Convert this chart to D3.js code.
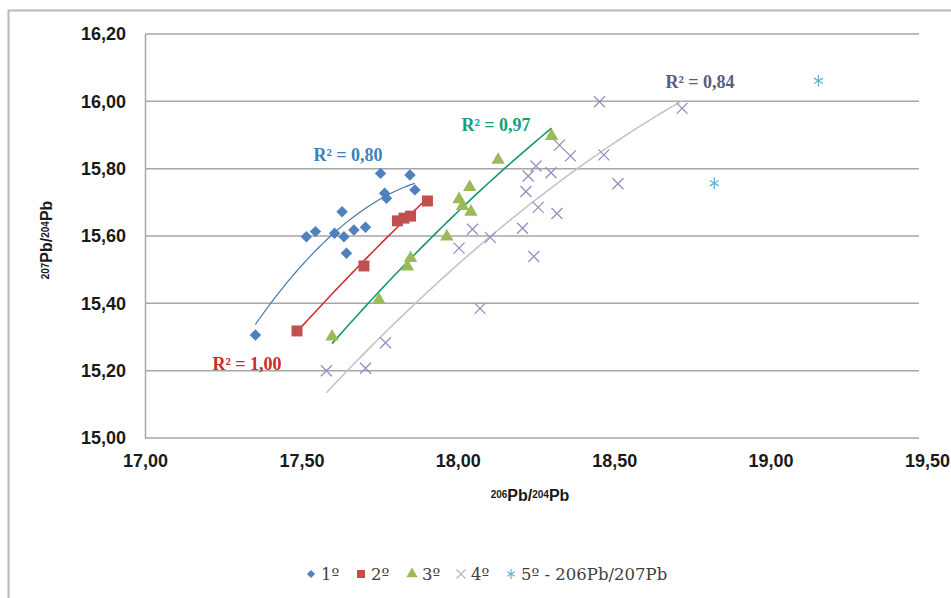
<!DOCTYPE html>
<html>
<head>
<meta charset="utf-8">
<script src="https://cdn.jsdelivr.net/npm/d3@7"></script>
<style>
  html, body { margin: 0; padding: 0; background: #fff; }
  svg { display: block; }
</style>
</head>
<body>
<div id="chart"></div>
<script>
// 数据
const xTicks = [17.0, 17.5, 18.0, 18.5, 19.0, 19.5];
const yTicks = [15.0, 15.2, 15.4, 15.6, 15.8, 16.0, 16.2];

const s1X = [17.353, 17.516, 17.545, 17.630, 17.606, 17.636, 17.644, 17.668, 17.705, 17.753, 17.766, 17.772, 17.847, 17.863];
const s1Y = [15.306, 15.598, 15.613, 15.672, 15.608, 15.598, 15.549, 15.618, 15.626, 15.786, 15.727, 15.712, 15.781, 15.737];

const s2X = [17.486, 17.700, 17.807, 17.828, 17.849, 17.903];
const s2Y = [15.318, 15.511, 15.645, 15.653, 15.659, 15.704];

const s3X = [17.598, 17.748, 17.839, 17.849, 17.965, 18.004, 18.015, 18.038, 18.042, 18.129, 18.300];
const s3Y = [15.301, 15.410, 15.509, 15.534, 15.598, 15.709, 15.689, 15.745, 15.672, 15.826, 15.897];

const s4X = [17.580, 17.705, 17.769, 18.004, 18.047, 18.071, 18.104, 18.207, 18.218, 18.225, 18.243, 18.250, 18.257, 18.298, 18.317, 18.325, 18.360, 18.453, 18.467, 18.512, 18.717];
const s4Y = [15.200, 15.207, 15.283, 15.564, 15.620, 15.385, 15.596, 15.623, 15.732, 15.778, 15.539, 15.808, 15.685, 15.788, 15.667, 15.870, 15.838, 15.999, 15.841, 15.755, 15.979];

const s5X = [19.153, 18.820];
const s5Y = [16.061, 15.757];

const seriesNames = ['1º', '2º', '3º', '4º', '5º - 206Pb/207Pb'];
const r2Labels = ['R² = 0,80', 'R² = 1,00', 'R² = 0,97', 'R² = 0,84'];

const W = 951, H = 598;
const margin = { left: 145, right: 24, top: 34, bottom: 160 };

const fmt = d3.formatLocale({ decimal: ',', thousands: '.', grouping: [3], currency: ['', ''] }).format('.2f');

const svg = d3.select('#chart').append('svg')
    .attr('width', W)
    .attr('height', H);

// 外框
svg.append('rect')
    .attr('x', 8.5).attr('y', 10.5)
    .attr('width', W + 20).attr('height', H + 20)
    .attr('fill', '#fff')
    .attr('stroke', '#b8b8b8')
    .attr('stroke-width', 2);

const x = d3.scaleLinear().domain([17.0, 19.5]).range([margin.left, W - margin.right]);
const y = d3.scaleLinear().domain([15.0, 16.2]).range([438, margin.top]);

// 网格线（原图略短于最后一个刻度）
svg.append('g')
    .selectAll('line')
    .data(yTicks)
    .join('line')
    .attr('x1', x(17.0)).attr('x2', x(19.5) - 8)
    .attr('y1', d => y(d)).attr('y2', d => y(d))
    .attr('stroke', '#a6a6a6')
    .attr('stroke-width', 1.5);

// Y 轴
const yAxis = svg.append('g')
    .attr('transform', `translate(${x(17.0)},0)`)
    .call(d3.axisLeft(y).tickValues(yTicks).tickFormat(fmt).tickSize(0).tickPadding(19));
yAxis.select('.domain').attr('stroke', '#a6a6a6').attr('stroke-width', 1.5);
yAxis.selectAll('text')
    .attr('font-family', '"Liberation Sans", Arial, sans-serif')
    .attr('font-weight', 'bold')
    .attr('font-size', 18)
    .attr('fill', '#1a1a1a');

// X 轴
const xAxis = svg.append('g')
    .attr('transform', `translate(0,${y(15.0)})`)
    .call(d3.axisBottom(x).tickValues(xTicks).tickFormat(fmt).tickSize(0).tickPadding(16));
xAxis.select('.domain').remove();
xAxis.selectAll('text')
    .attr('font-family', '"Liberation Sans", Arial, sans-serif')
    .attr('font-weight', 'bold')
    .attr('font-size', 18)
    .attr('fill', '#1a1a1a');

// 轴标题
function pbTitle(sel, a, b) {
    sel.append('tspan').attr('font-size', 10).attr('baseline-shift', '35%').text(a);
    sel.append('tspan').text('Pb/');
    sel.append('tspan').attr('font-size', 10).attr('baseline-shift', '35%').text(b);
    sel.append('tspan').text('Pb');
}

const xTitle = svg.append('text')
    .attr('x', 530).attr('y', 501)
    .attr('text-anchor', 'middle')
    .attr('font-family', '"Liberation Sans", Arial, sans-serif')
    .attr('font-weight', 'bold')
    .attr('font-size', 16)
    .attr('fill', '#1a1a1a');
pbTitle(xTitle, '206', '204');

const yTitle = svg.append('text')
    .attr('transform', 'translate(52,240) rotate(-90)')
    .attr('text-anchor', 'middle')
    .attr('font-family', '"Liberation Sans", Arial, sans-serif')
    .attr('font-weight', 'bold')
    .attr('font-size', 16)
    .attr('fill', '#1a1a1a');
pbTitle(yTitle, '207', '204');

// 二次多项式拟合
function polyFit2(xs, ys) {
    const n = xs.length;
    const x0 = d3.mean(xs);
    let s = [0, 0, 0, 0, 0], t = [0, 0, 0];
    for (let i = 0; i < n; i++) {
        const u = xs[i] - x0;
        for (let k = 0; k < 5; k++) s[k] += Math.pow(u, k);
        for (let k = 0; k < 3; k++) t[k] += ys[i] * Math.pow(u, k);
    }
    const M = [[s[0], s[1], s[2]], [s[1], s[2], s[3]], [s[2], s[3], s[4]]];
    const det = m => m[0][0] * (m[1][1] * m[2][2] - m[1][2] * m[2][1])
        - m[0][1] * (m[1][0] * m[2][2] - m[1][2] * m[2][0])
        + m[0][2] * (m[1][0] * m[2][1] - m[1][1] * m[2][0]);
    const D = det(M);
    const coef = [0, 1, 2].map(c => {
        const m = M.map((row, r) => row.map((v, j) => j === c ? t[r] : v));
        return det(m) / D;
    });
    return xv => coef[0] + coef[1] * (xv - x0) + coef[2] * (xv - x0) * (xv - x0);
}

const trendSeries = [
    { xs: s1X, ys: s1Y, color: '#4a78ac', width: 1.2 },
    { xs: s2X, ys: s2Y, color: '#d22f2f', width: 1.6 },
    { xs: s3X, ys: s3Y, color: '#15986b', width: 1.6 },
    { xs: s4X, ys: s4Y, color: '#c4c4c8', width: 1.6 }
];

const line = d3.line().x(d => x(d[0])).y(d => y(d[1]));

trendSeries.forEach(s => {
    const f = polyFit2(s.xs, s.ys);
    const [lo, hi] = d3.extent(s.xs);
    const pts = d3.range(0, 41).map(i => {
        const xv = lo + (hi - lo) * i / 40;
        return [xv, f(xv)];
    });
    svg.append('path')
        .attr('d', line(pts))
        .attr('fill', 'none')
        .attr('stroke', s.color)
        .attr('stroke-width', s.width);
});

// 标记
const COLORS = ['#4f81bd', '#c0504d', '#9bbb59', '#948fc0', '#62b6d0'];

function xMark(r) {
    return `M${-r},${-r}L${r},${r}M${-r},${r}L${r},${-r}`;
}
function starMark(r) {
    const a = r * 0.75;
    return `M0,${-r}L0,${r}M${-a},${-a * 0.6}L${a},${a * 0.6}M${-a},${a * 0.6}L${a},${-a * 0.6}`;
}

function drawSeries(xs, ys, idx) {
    const g = svg.append('g');
    const pts = xs.map((v, i) => [v, ys[i]]);
    const sel = g.selectAll('path').data(pts).join('path')
        .attr('transform', d => `translate(${x(d[0])},${y(d[1])})`);
    if (idx === 0) {
        sel.attr('d', d3.symbol(d3.symbolSquare, 66)()).attr('fill', COLORS[0])
            .attr('transform', d => `translate(${x(d[0])},${y(d[1])}) rotate(45)`);
    } else if (idx === 1) {
        sel.attr('d', d3.symbol(d3.symbolSquare, 120)()).attr('fill', COLORS[1]);
    } else if (idx === 2) {
        sel.attr('d', d3.symbol(d3.symbolTriangle, 78)()).attr('fill', COLORS[2]);
    } else if (idx === 3) {
        sel.attr('d', xMark(5.5)).attr('fill', 'none').attr('stroke', COLORS[3]).attr('stroke-width', 1.3);
    } else {
        sel.attr('d', starMark(6)).attr('fill', 'none').attr('stroke', COLORS[4]).attr('stroke-width', 1.3);
    }
}

drawSeries(s4X, s4Y, 3);
drawSeries(s1X, s1Y, 0);
drawSeries(s2X, s2Y, 1);
drawSeries(s3X, s3Y, 2);
drawSeries(s5X, s5Y, 4);

// R² 标签
const r2Pos = [[348, 161], [247, 370], [496, 131], [700, 88]];
const r2Colors = ['#3f7fbd', '#cf2a2a', '#16a07a', '#5c5c7c'];
r2Labels.forEach((t, i) => {
    svg.append('text')
        .attr('x', r2Pos[i][0]).attr('y', r2Pos[i][1])
        .attr('text-anchor', 'middle')
        .attr('font-family', '"Liberation Serif", "DejaVu Serif", serif')
        .attr('font-weight', 'bold')
        .attr('font-size', 18)
        .attr('fill', r2Colors[i])
        .text(t);
});

// 图例
const legendX = [311, 361, 412, 461, 511];
const legend = svg.append('g').attr('transform', 'translate(0,574)');
seriesNames.forEach((name, i) => {
    const g = legend.append('g').attr('transform', `translate(${legendX[i]},0)`);
    const p = g.append('path');
    if (i === 0) p.attr('d', d3.symbol(d3.symbolSquare, 34)()).attr('fill', COLORS[0]).attr('transform', 'rotate(45)');
    else if (i === 1) p.attr('d', d3.symbol(d3.symbolSquare, 64)()).attr('fill', COLORS[1]);
    else if (i === 2) p.attr('d', d3.symbol(d3.symbolTriangle, 55)()).attr('fill', COLORS[2]);
    else if (i === 3) p.attr('d', xMark(4.5)).attr('fill', 'none').attr('stroke', '#b4b4c4').attr('stroke-width', 1.2);
    else p.attr('d', starMark(5)).attr('fill', 'none').attr('stroke', COLORS[4]).attr('stroke-width', 1.2);
    g.append('text')
        .attr('x', 10).attr('y', 6)
        .attr('font-family', '"DejaVu Serif", serif')
        .attr('font-size', 16.5)
        .attr('fill', '#404040')
        .text(name);
});
</script>
</body>
</html>
